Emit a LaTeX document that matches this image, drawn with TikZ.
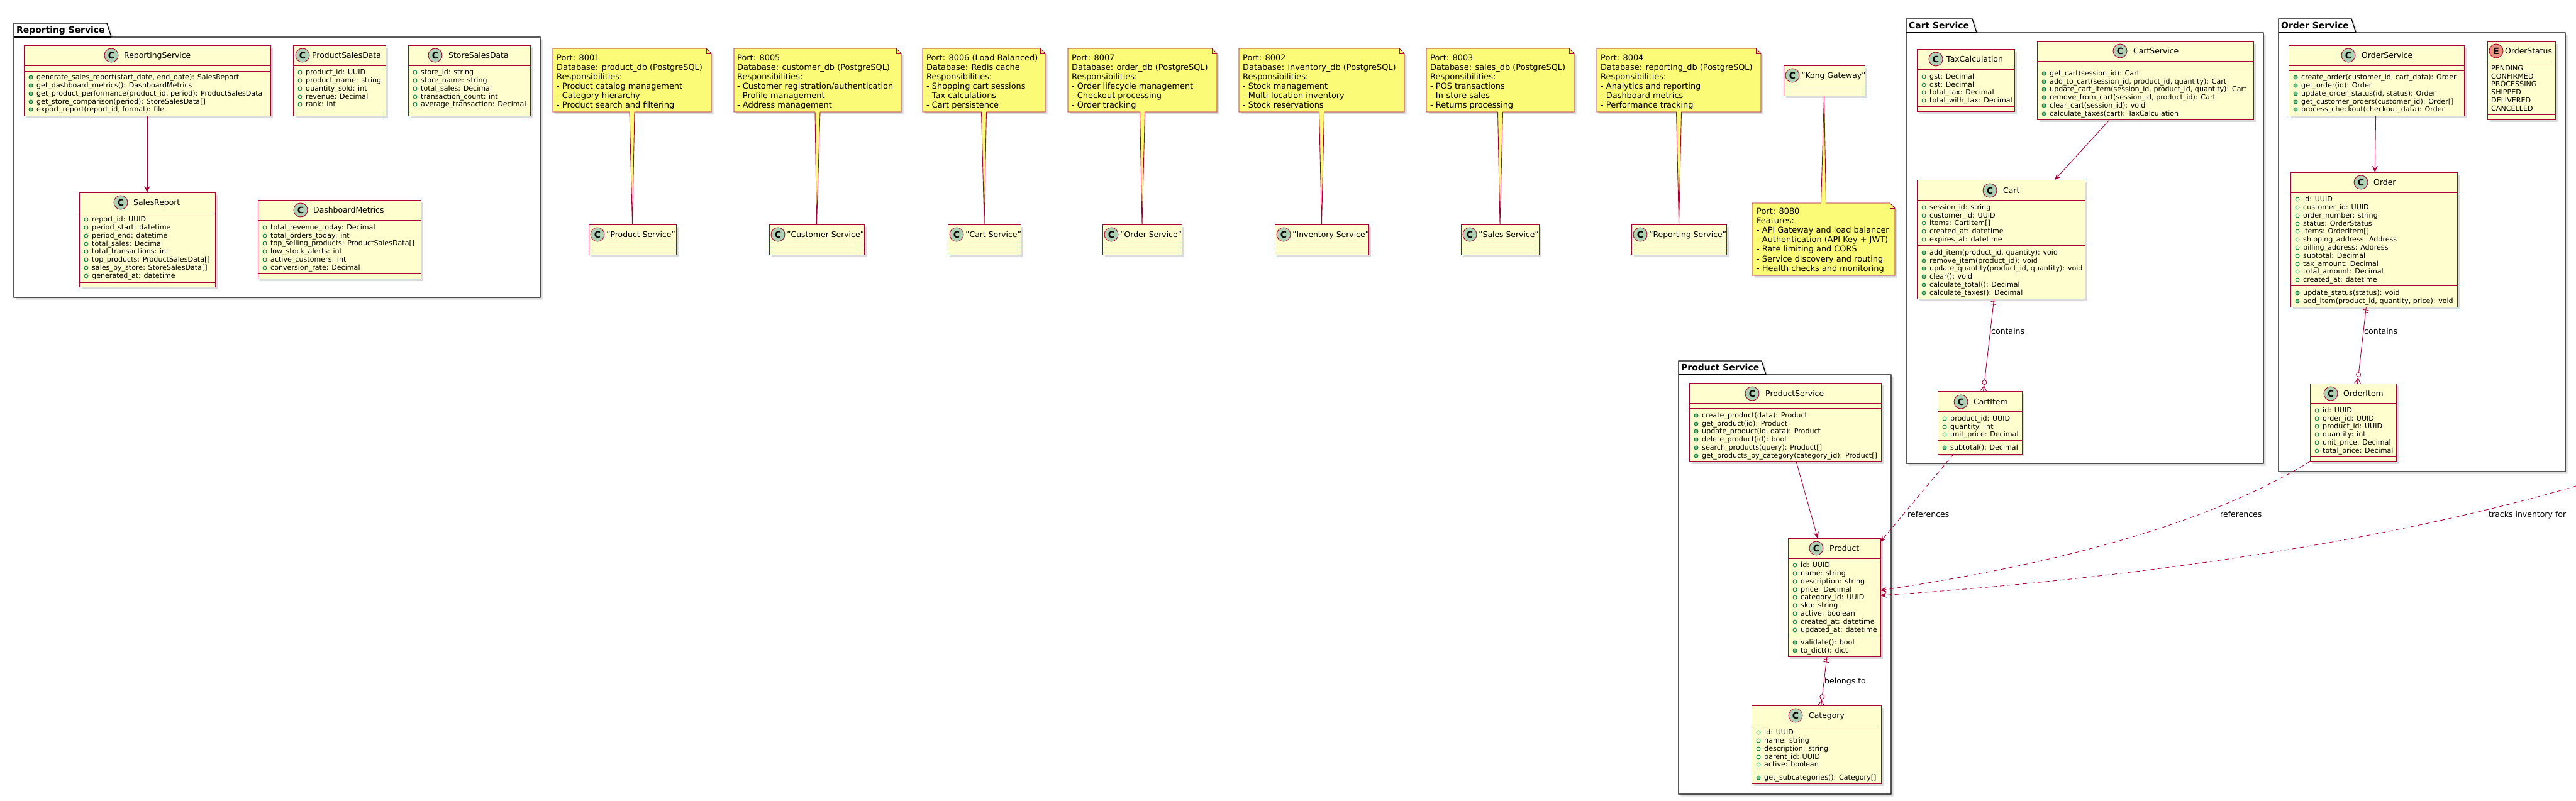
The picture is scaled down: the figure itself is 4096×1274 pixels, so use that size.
\documentclass[tikz,border=0pt]{standalone}
\usepackage{fontspec}
\setmainfont{DejaVu Sans}
\usetikzlibrary{arrows.meta,calc,shadows,decorations.markings}
\definecolor{umlred}{HTML}{A80036}
\definecolor{clsfill}{HTML}{FEFECE}
\definecolor{notefill}{HTML}{FBFB77}
\definecolor{cgreen}{HTML}{ADD1B2}
\definecolor{eorange}{HTML}{EB937F}
\definecolor{icogreen}{HTML}{038048}
\definecolor{icofill}{HTML}{84BE84}
\newcounter{tl}
\newcommand\fMem{\fontsize{11.1}{13}\selectfont}
\newcommand\fName{\fontsize{12.4}{14}\selectfont}
\newcommand\fNote{\fontsize{12.9}{15}\selectfont}
\newcommand\fLbl{\fontsize{12.5}{14}\selectfont}
\newcommand\fPkg{\fontsize{13.9}{16}\selectfont\bfseries}
\newcommand\fCirc{\fontsize{14}{14}\selectfont\bfseries}
\tikzset{
 shadowed/.style={general shadow={fill=black!14, shadow xshift=3.5pt, shadow yshift=-3.5pt}},
 cls/.style={draw=umlred, fill=clsfill, line width=1pt, inner sep=0pt, outer sep=0pt, shadowed},
 sepline/.style={draw=umlred, line width=1pt},
 pkg/.style={draw=black, line width=1.3pt, fill=white, shadowed},
 pkgline/.style={draw=black, line width=1.3pt},
 notepath/.style={draw=umlred, fill=notefill, line width=0.9pt, shadowed},
 notefold/.style={draw=umlred, line width=0.9pt},
 mtext/.style={anchor=base west, inner sep=0pt, font=\fMem},
 ntext/.style={anchor=base west, inner sep=0pt, font=\fNote},
 lbl/.style={anchor=base west, inner sep=0pt, font=\fLbl},
 ptitle/.style={anchor=base west, inner sep=0pt, font=\fPkg},
 cname/.style={anchor=base west, inner sep=0pt, font=\fName},
 circ/.style={circle, draw=umlred, line width=0.9pt, minimum size=22pt, inner sep=0pt, font=\fCirc},
 attrico/.style={draw=icogreen, line width=0.9pt, fill=none},
 methico/.style={draw=icogreen, line width=0.9pt, fill=icofill},
 arr/.style={draw=umlred, line width=0.9pt, -{Stealth[length=10pt,width=9pt,inset=4pt]}},
 darr/.style={arr, dash pattern=on 7pt off 5pt},
 crowline/.style={draw=umlred, line width=0.9pt, postaction={decorate}, decoration={markings,
   mark=at position 5pt with {\draw[umlred,line width=0.9pt] (0pt,-4.5pt) -- (0pt,4.5pt);},
   mark=at position 9pt with {\draw[umlred,line width=0.9pt] (0pt,-4.5pt) -- (0pt,4.5pt);},
   mark=at position -14pt with {\draw[umlred,line width=0.9pt,fill=white] (0pt,0pt) circle (3.5pt);},
   mark=at position -8pt with {\draw[umlred,line width=0.9pt] (0pt,0pt) -- (8pt,5pt) (0pt,0pt) -- (8pt,0pt) (0pt,0pt) -- (8pt,-5pt);}}}
}
% box: name, x1, y1, x2, y2
\newcommand\cbox[5]{\node[cls, anchor=north west, minimum width={(#4-#2)*1pt}, minimum height={(#5-#3)*1pt}] (#1) at (#2,#3) {};}
\newcommand\hsep[3]{\draw[sepline] (#1,#3) -- (#2,#3);}
% header: cx, cy, letter, fill, namex, name
\newcommand\chead[6]{\stepcounter{tl}\node[circ, fill=#4] (ci\thetl) at (#1,#2) {#3};%
 \stepcounter{tl}\node[cname] (cn\thetl) at (#5,#2+4.5) {#6};}
\newcommand\ma[3]{\draw[attrico] (#1+11,#2+1) circle (3pt);\stepcounter{tl}\node[mtext] (m\thetl) at (#1+20,#2+4) {#3};}
\newcommand\mm[3]{\draw[methico] (#1+11,#2+1) circle (3pt);\stepcounter{tl}\node[mtext] (m\thetl) at (#1+20,#2+4) {#3};}
\newcommand\mv[3]{\stepcounter{tl}\node[mtext] (m\thetl) at (#1,#2+4) {#3};}
% package: x1, tabtop, tabright, bodytop, x2, bottom
\newcommand\pkgshape[6]{\draw[pkg] (#1,#2) -- (#3-7,#2) -- (#3,#4) -- (#5,#4) -- (#5,#6) -- (#1,#6) -- cycle;
 \draw[pkgline] (#1,#4) -- (#3,#4);}
% note: name, x1, y1, x2, y2
\newcommand\notebox[5]{\node[inner sep=0pt, outer sep=0pt, anchor=north west, minimum width={(#4-#2)*1pt}, minimum height={(#5-#3)*1pt}] (#1) at (#2,#3) {};
 \draw[notepath] (#2,#3) -- (#4-8,#3) -- (#4,#3+8) -- (#4,#5) -- (#2,#5) -- cycle;
 \draw[notefold] (#4-8,#3) -- (#4-8,#3+8) -- (#4,#3+8);}
\newcommand\nt[3]{\stepcounter{tl}\node[ntext] (nt\thetl) at (#1,#2) {#3};}
% note connectors (note above class)
\newcommand\notelink[2]{\fill[notefill] ($(#1.south)+(-4,-1)$) -- (#2.north) -- ($(#1.south)+(4,-1)$) -- cycle;
 \draw[umlred, line width=0.9pt] ($(#1.south)+(-4,0)$) -- (#2.north) -- ($(#1.south)+(4,0)$);}
% service class with quoted name: name, x1, x2, label, y1
\newcommand\svc[5]{\cbox{#1}{#2}{#5}{#3}{#5+48}\hsep{#2}{#3}{#5+32}\hsep{#2}{#3}{#5+40}%
 \chead{#2+14}{#5+16}{C}{cgreen}{#2+28}{#4}}
\begin{document}
\begin{tikzpicture}[x=1pt,y=-1pt]
\useasboundingbox (0,0) rectangle (4096,1274);
\fill[white] (0,0) rectangle (4096,1274);

% ---------------- packages
\pkgshape{22}{37}{177}{59}{859}{473}
\node[ptitle] (pt1) at (26,52) {Reporting Service};
\pkgshape{3031}{30}{3143}{52}{3599}{737}
\node[ptitle] (pt2) at (3035,45) {Cart Service};
\pkgshape{3623}{30}{3746}{52}{4079}{750}
\node[ptitle] (pt3) at (3627,45) {Order Service};
\pkgshape{2669}{574}{2808}{596}{3007}{1263}
\node[ptitle] (pt4) at (2673,589) {Product Service};

% ---------------- Reporting Service
\cbox{cRS}{38}{72}{430}{184}
\hsep{38}{430}{104}\hsep{38}{430}{113}
\chead{177}{88}{C}{cgreen}{197}{ReportingService}
\mm{38}{122}{generate\_sales\_report(start\_date, end\_date): SalesReport}
\mm{38}{135}{get\_dashboard\_metrics(): DashboardMetrics}
\mm{38}{148}{get\_product\_performance(product\_id, period): ProductSalesData}
\mm{38}{161}{get\_store\_comparison(period): StoreSalesData[]}
\mm{38}{173}{export\_report(report\_id, format): file}

\cbox{cPSD}{466}{72}{613}{184}
\hsep{466}{613}{104}\hsep{466}{613}{176}
\chead{481}{88}{C}{cgreen}{496}{ProductSalesData}
\ma{466}{114}{product\_id: UUID}
\ma{466}{127}{product\_name: string}
\ma{466}{140}{quantity\_sold: int}
\ma{466}{153}{revenue: Decimal}
\ma{466}{165}{rank: int}

\cbox{cSSD}{649}{72}{843}{184}
\hsep{649}{843}{104}\hsep{649}{843}{176}
\chead{692}{88}{C}{cgreen}{713}{StoreSalesData}
\ma{649}{114}{store\_id: string}
\ma{649}{127}{store\_name: string}
\ma{649}{140}{total\_sales: Decimal}
\ma{649}{153}{transaction\_count: int}
\ma{649}{165}{average\_transaction: Decimal}

\cbox{cSR}{126}{306}{342}{456}
\hsep{126}{342}{338}\hsep{126}{342}{449}
\chead{192}{322}{C}{cgreen}{212}{SalesReport}
\ma{126}{348}{report\_id: UUID}
\ma{126}{361}{period\_start: datetime}
\ma{126}{374}{period\_end: datetime}
\ma{126}{387}{total\_sales: Decimal}
\ma{126}{399}{total\_transactions: int}
\ma{126}{412}{top\_products: ProductSalesData[]}
\ma{126}{425}{sales\_by\_store: StoreSalesData[]}
\ma{126}{438}{generated\_at: datetime}

\cbox{cDM}{410}{318}{669}{443}
\hsep{410}{669}{350}\hsep{410}{669}{435}
\chead{478}{334}{C}{cgreen}{498}{DashboardMetrics}
\ma{410}{361}{total\_revenue\_today: Decimal}
\ma{410}{374}{total\_orders\_today: int}
\ma{410}{386}{top\_selling\_products: ProductSalesData[]}
\ma{410}{399}{low\_stock\_alerts: int}
\ma{410}{412}{active\_customers: int}
\ma{410}{425}{conversion\_rate: Decimal}

\draw[arr] (cRS) -- (cSR);

% ---------------- notes row
\notebox{n1}{879}{77}{1131}{178}
\nt{885}{96}{Port: 8001}
\nt{885}{111}{Database: product\_db (PostgreSQL)}
\nt{885}{126}{Responsibilities:}
\nt{885}{141}{- Product catalog management}
\nt{885}{156}{- Category hierarchy}
\nt{885}{171}{- Product search and filtering}

\notebox{n2}{1167}{77}{1433}{178}
\nt{1172}{96}{Port: 8005}
\nt{1172}{111}{Database: customer\_db (PostgreSQL)}
\nt{1172}{126}{Responsibilities:}
\nt{1172}{141}{- Customer registration/authentication}
\nt{1172}{156}{- Profile management}
\nt{1172}{171}{- Address management}

\notebox{n3}{1467}{77}{1662}{178}
\nt{1473}{96}{Port: 8006 (Load Balanced)}
\nt{1473}{111}{Database: Redis cache}
\nt{1473}{126}{Responsibilities:}
\nt{1473}{141}{- Shopping cart sessions}
\nt{1473}{156}{- Tax calculations}
\nt{1473}{171}{- Cart persistence}

\notebox{n4}{1698}{77}{1935}{178}
\nt{1704}{96}{Port: 8007}
\nt{1704}{111}{Database: order\_db (PostgreSQL)}
\nt{1704}{126}{Responsibilities:}
\nt{1704}{141}{- Order lifecycle management}
\nt{1704}{156}{- Checkout processing}
\nt{1704}{171}{- Order tracking}

\notebox{n5}{1970}{77}{2233}{178}
\nt{1976}{96}{Port: 8002}
\nt{1976}{111}{Database: inventory\_db (PostgreSQL)}
\nt{1976}{126}{Responsibilities:}
\nt{1976}{141}{- Stock management}
\nt{1976}{156}{- Multi-location inventory}
\nt{1976}{171}{- Stock reservations}

\notebox{n6}{2268}{77}{2503}{178}
\nt{2274}{96}{Port: 8003}
\nt{2274}{111}{Database: sales\_db (PostgreSQL)}
\nt{2274}{126}{Responsibilities:}
\nt{2274}{141}{- POS transactions}
\nt{2274}{156}{- In-store sales}
\nt{2274}{171}{- Returns processing}

\notebox{n7}{2539}{77}{2800}{178}
\nt{2545}{96}{Port: 8004}
\nt{2545}{111}{Database: reporting\_db (PostgreSQL)}
\nt{2545}{126}{Responsibilities:}
\nt{2545}{141}{- Analytics and reporting}
\nt{2545}{156}{- Dashboard metrics}
\nt{2545}{171}{- Performance tracking}

\svc{s1}{936}{1075}{"Product Service"}{357}
\svc{s2}{1223}{1374}{"Customer Service"}{357}
\svc{s3}{1507}{1623}{"Cart Service"}{357}
\svc{s4}{1753}{1879}{"Order Service"}{357}
\svc{s5}{2027}{2176}{"Inventory Service"}{357}
\svc{s6}{2323}{2447}{"Sales Service"}{357}
\svc{s7}{2594}{2745}{"Reporting Service"}{357}
\svc{kong}{2836}{2965}{"Kong Gateway"}{104}

\notelink{n1}{s1}
\notelink{n2}{s2}
\notelink{n3}{s3}
\notelink{n4}{s4}
\notelink{n5}{s5}
\notelink{n6}{s6}
\notelink{n7}{s7}

\notebox{n8}{2786}{323}{3013}{438}
\nt{2793}{340}{Port: 8080}
\nt{2793}{355}{Features:}
\nt{2793}{370}{- API Gateway and load balancer}
\nt{2793}{385}{- Authentication (API Key + JWT)}
\nt{2793}{400}{- Rate limiting and CORS}
\nt{2793}{416}{- Service discovery and routing}
\nt{2793}{431}{- Health checks and monitoring}
\fill[notefill] ($(n8.north)+(-4,1)$) -- (kong.south) -- ($(n8.north)+(4,1)$) -- cycle;
\draw[umlred, line width=0.9pt] ($(n8.north)+(-4,0)$) -- (kong.south) -- ($(n8.north)+(4,0)$);

% ---------------- Cart Service
\cbox{cTax}{3048}{78}{3203}{177}
\hsep{3048}{3203}{110}\hsep{3048}{3203}{169}
\chead{3078}{94}{C}{cgreen}{3095}{TaxCalculation}
\ma{3048}{121}{gst: Decimal}
\ma{3048}{134}{qst: Decimal}
\ma{3048}{146}{total\_tax: Decimal}
\ma{3048}{159}{total\_with\_tax: Decimal}

\cbox{cCS}{3239}{66}{3583}{190}
\hsep{3239}{3583}{97}\hsep{3239}{3583}{106}
\chead{3371}{81}{C}{cgreen}{3392}{CartService}
\mm{3239}{116}{get\_cart(session\_id): Cart}
\mm{3239}{129}{add\_to\_cart(session\_id, product\_id, quantity): Cart}
\mm{3239}{141}{update\_cart\_item(session\_id, product\_id, quantity): Cart}
\mm{3239}{154}{remove\_from\_cart(session\_id, product\_id): Cart}
\mm{3239}{167}{clear\_cart(session\_id): void}
\mm{3239}{180}{calculate\_taxes(cart): TaxCalculation}

\cbox{cCart}{3048}{286}{3315}{475}
\hsep{3048}{3315}{318}\hsep{3048}{3315}{390}
\chead{3164}{303}{C}{cgreen}{3185}{Cart}
\ma{3048}{329}{session\_id: string}
\ma{3048}{342}{customer\_id: UUID}
\ma{3048}{354}{items: CartItem[]}
\ma{3048}{367}{created\_at: datetime}
\ma{3048}{380}{expires\_at: datetime}
\mm{3048}{401}{add\_item(product\_id, quantity): void}
\mm{3048}{414}{remove\_item(product\_id): void}
\mm{3048}{426}{update\_quantity(product\_id, quantity): void}
\mm{3048}{439}{clear(): void}
\mm{3048}{452}{calculate\_total(): Decimal}
\mm{3048}{465}{calculate\_taxes(): Decimal}

\cbox{cCI}{3081}{622}{3215}{722}
\hsep{3081}{3215}{654}\hsep{3081}{3215}{700}
\chead{3118}{639}{C}{cgreen}{3138}{CartItem}
\ma{3081}{665}{product\_id: UUID}
\ma{3081}{678}{quantity: int}
\ma{3081}{690}{unit\_price: Decimal}
\mm{3081}{711}{subtotal(): Decimal}

\draw[arr] (cCS) -- (cCart);
\draw[crowline] (cCart) -- (cCI);
\node[lbl] (lb1) at (3166,531) {contains};

% ---------------- Order Service
\cbox{cOS}{3639}{72}{3918}{184}
\hsep{3639}{3918}{104}\hsep{3639}{3918}{112}
\chead{3734}{88}{C}{cgreen}{3755}{OrderService}
\mm{3639}{122}{create\_order(customer\_id, cart\_data): Order}
\mm{3639}{135}{get\_order(id): Order}
\mm{3639}{148}{update\_order\_status(id, status): Order}
\mm{3639}{161}{get\_customer\_orders(customer\_id): Order[]}
\mm{3639}{173}{process\_checkout(checkout\_data): Order}

\cbox{cOSt}{3955}{66}{4063}{190}
\hsep{3955}{4063}{98}\hsep{3955}{4063}{182}
\chead{3969}{81}{E}{eorange}{3983}{OrderStatus}
\mv{3961}{108}{PENDING}
\mv{3961}{121}{CONFIRMED}
\mv{3961}{133}{PROCESSING}
\mv{3961}{146}{SHIPPED}
\mv{3961}{159}{DELIVERED}
\mv{3961}{172}{CANCELLED}

\cbox{cOrd}{3642}{274}{3907}{488}
\hsep{3642}{3907}{306}\hsep{3642}{3907}{454}
\chead{3754}{290}{C}{cgreen}{3774}{Order}
\ma{3642}{316}{id: UUID}
\ma{3642}{329}{customer\_id: UUID}
\ma{3642}{342}{order\_number: string}
\ma{3642}{355}{status: OrderStatus}
\ma{3642}{367}{items: OrderItem[]}
\ma{3642}{380}{shipping\_address: Address}
\ma{3642}{393}{billing\_address: Address}
\ma{3642}{406}{subtotal: Decimal}
\ma{3642}{419}{tax\_amount: Decimal}
\ma{3642}{431}{total\_amount: Decimal}
\ma{3642}{444}{created\_at: datetime}
\mm{3642}{465}{update\_status(status): void}
\mm{3642}{478}{add\_item(product\_id, quantity, price): void}

\cbox{cOI}{3673}{610}{3810}{734}
\hsep{3673}{3810}{641}\hsep{3673}{3810}{726}
\chead{3706}{626}{C}{cgreen}{3726}{OrderItem}
\ma{3673}{652}{id: UUID}
\ma{3673}{665}{order\_id: UUID}
\ma{3673}{677}{product\_id: UUID}
\ma{3673}{690}{quantity: int}
\ma{3673}{703}{unit\_price: Decimal}
\ma{3673}{716}{total\_price: Decimal}

\draw[arr] (cOS) -- (cOrd);
\draw[crowline] (cOrd) -- (cOI);
\node[lbl] (lb2) at (3759,531) {contains};

% ---------------- Product Service
\cbox{cPS}{2686}{609}{2991}{734}
\hsep{2686}{2991}{641}\hsep{2686}{2991}{649}
\chead{2786}{626}{C}{cgreen}{2807}{ProductService}
\mm{2686}{660}{create\_product(data): Product}
\mm{2686}{673}{get\_product(id): Product}
\mm{2686}{685}{update\_product(id, data): Product}
\mm{2686}{698}{delete\_product(id): bool}
\mm{2686}{711}{search\_products(query): Product[]}
\mm{2686}{724}{get\_products\_by\_category(category\_id): Product[]}

\cbox{cProd}{2843}{856}{2990}{1044}
\hsep{2843}{2990}{888}\hsep{2843}{2990}{1011}
\chead{2888}{872}{C}{cgreen}{2909}{Product}
\ma{2843}{898}{id: UUID}
\ma{2843}{911}{name: string}
\ma{2843}{924}{description: string}
\ma{2843}{937}{price: Decimal}
\ma{2843}{949}{category\_id: UUID}
\ma{2843}{962}{sku: string}
\ma{2843}{975}{active: boolean}
\ma{2843}{988}{created\_at: datetime}
\ma{2843}{1001}{updated\_at: datetime}
\mm{2843}{1021}{validate(): bool}
\mm{2843}{1034}{to\_dict(): dict}

\cbox{cCat}{2785}{1122}{2991}{1246}
\hsep{2785}{2991}{1154}\hsep{2785}{2991}{1226}
\chead{2855}{1138}{C}{cgreen}{2876}{Category}
\ma{2785}{1164}{id: UUID}
\ma{2785}{1177}{name: string}
\ma{2785}{1190}{description: string}
\ma{2785}{1203}{parent\_id: UUID}
\ma{2785}{1215}{active: boolean}
\mm{2785}{1236}{get\_subcategories(): Category[]}

\draw[arr] (cPS) -- (cProd);
\draw[crowline] (cProd) -- (cCat);
\node[lbl] (lb3) at (2901,1087) {belongs to};

% ---------------- cross-service references
\draw[darr] (cCI) -- (cProd);
\node[lbl] (lb4) at (3033,822) {references};
\draw[darr] (cOI.south west) .. controls (3500,840) and (3250,900) .. ($(cProd.east)+(0,-11)$);
\node[lbl] (lb5) at (3530,822) {references};
\coordinate (offR) at (4096,773);
\draw[darr] (offR) .. controls (3800,860) and (3400,920) .. ($(cProd.east)+(0,-3)$);
\node[lbl] (lb6) at (3957,822) {tracks inventory for};
\end{tikzpicture}
\end{document}
